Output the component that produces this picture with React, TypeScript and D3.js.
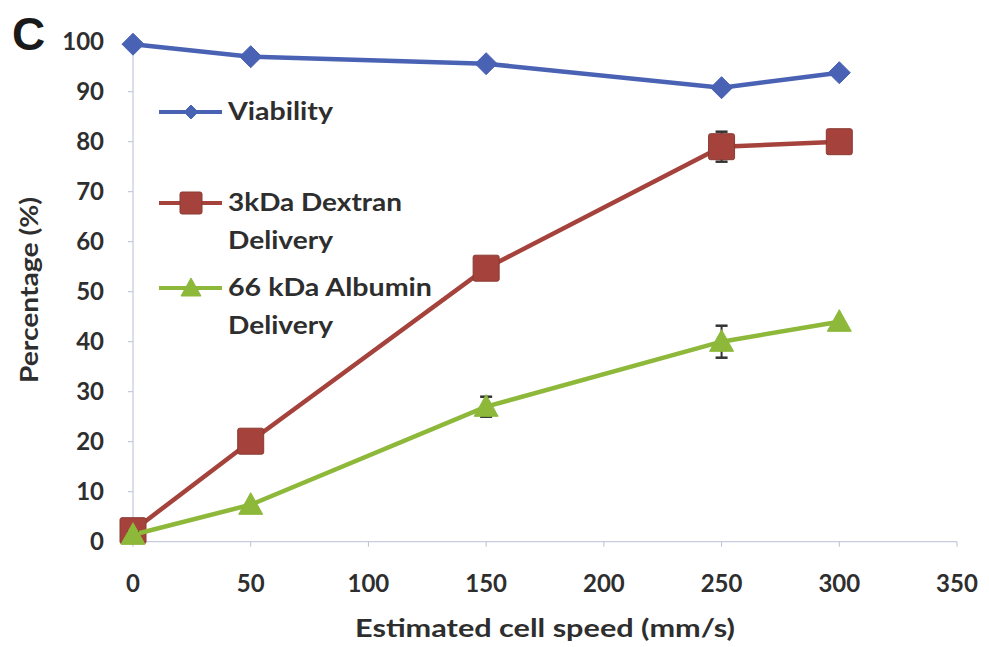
import React from "react";
import * as d3 from "d3";

const speeds = [0, 50, 150, 250, 300];
const viability = [99.5, 97, 95.6, 90.8, 93.8];
const viabilityErr = [0, 0, 0, 0, 0];
const dextran = [2.2, 20.1, 54.7, 79, 80];
const dextranErr = [2, 0, 1.5, 3, 0];
const albumin = [1.4, 7.4, 27, 40, 44];
const albuminErr = [0.5, 0, 2, 3.2, 0];
const xTicks = [0, 50, 100, 150, 200, 250, 300, 350];
const yTicks = [0, 10, 20, 30, 40, 50, 60, 70, 80, 90, 100];

const W = 989;
const H = 647;
const x = d3.scaleLinear().domain([0, 350]).range([133, 957]);
const y = d3.scaleLinear().domain([0, 100]).range([541.7, 41.7]);

const font = "Lato, 'Open Sans', sans-serif";
const textColor = "#2e2e2e";
const axisColor = "#b9bfd6";

const series = [
  { name: "Viability", values: viability, err: viabilityErr, color: "#4a62b4", marker: "diamond" },
  { name: "3kDa Dextran", values: dextran, err: dextranErr, color: "#a4423b", marker: "square" },
  { name: "66 kDa Albumin", values: albumin, err: albuminErr, color: "#8db83a", marker: "triangle" },
];

function Marker({ type, cx, cy, color, small }: { type: string; cx: number; cy: number; color: string; small?: boolean }) {
  if (type === "diamond") {
    const s = small ? 7 : 11;
    return <path d={`M${cx},${cy - s}L${cx + s},${cy}L${cx},${cy + s}L${cx - s},${cy}Z`} fill={color} stroke={color} strokeWidth={1} />;
  }
  if (type === "square") {
    const s = small ? 11 : 13;
    return <rect x={cx - s} y={cy - s} width={2 * s} height={2 * s} rx={2} fill={color} stroke="#8a3a33" strokeWidth={1} />;
  }
  const s = small ? 10 : 12;
  return <path d={`M${cx},${cy - s}L${cx + s},${cy + s * 0.8}L${cx - s},${cy + s * 0.8}Z`} fill={color} stroke={color} strokeWidth={1} />;
}

export default function App() {
  const line = d3
    .line<number>()
    .x((_, i) => x(speeds[i]))
    .y((d) => y(d));

  const legend = [
    { idx: 0, ly: 112, lines: ["Viability"], widths: [105] },
    { idx: 1, ly: 203, lines: ["3kDa Dextran", "Delivery"], widths: [174, 105] },
    { idx: 2, ly: 288, lines: ["66 kDa Albumin", "Delivery"], widths: [204, 105] },
  ];

  return (
    <svg width={W} height={H} style={{ display: "block", position: "absolute", left: 0, top: 0 }}>
      <rect width={W} height={H} fill="#ffffff" />
      <text x={12} y={50} fontFamily="Arial, 'Liberation Sans', sans-serif" fontWeight={900} fontSize={46} fill="#1a1a1a">C</text>

      {/* axes */}
      <line x1={x(0)} x2={x(0)} y1={y(100)} y2={y(0)} stroke={axisColor} strokeWidth={1} />
      <line x1={x(0)} x2={x(350)} y1={y(0)} y2={y(0)} stroke={axisColor} strokeWidth={1} />
      {yTicks.map((t) => (
        <g key={"y" + t}>
          <line x1={x(0) - 5} x2={x(0)} y1={y(t)} y2={y(t)} stroke={axisColor} />
          <text x={104} y={y(t)} dy="0.36em" textAnchor="end" fontFamily={font} fontWeight={700} fontSize={24} fill={textColor}>{t}</text>
        </g>
      ))}
      {xTicks.map((t) => (
        <g key={"x" + t}>
          <line x1={x(t)} x2={x(t)} y1={y(0)} y2={y(0) + 5} stroke={axisColor} />
          <text x={x(t)} y={583} dy="0.36em" textAnchor="middle" fontFamily={font} fontWeight={700} fontSize={24} fill={textColor}>{t}</text>
        </g>
      ))}
      <text x={545} y={637} textAnchor="middle" fontFamily={font} fontWeight={700} fontSize={24} textLength={380} lengthAdjust="spacingAndGlyphs" fill={textColor}>Estimated cell speed (mm/s)</text>
      <text transform={`translate(38,290) rotate(-90)`} textAnchor="middle" fontFamily={font} fontWeight={700} fontSize={24} textLength={186} lengthAdjust="spacingAndGlyphs" fill={textColor}>Percentage (%)</text>

      {/* series */}
      {series.map((s) => (
        <g key={s.name}>
          <path d={line(s.values) || ""} fill="none" stroke={s.color} strokeWidth={4.5} />
          {s.values.map((v, i) =>
            s.err[i] > 0 ? (
              <g key={"e" + i}>
                <line x1={x(speeds[i])} x2={x(speeds[i])} y1={y(v + s.err[i])} y2={y(v - s.err[i])} stroke="#333" strokeWidth={2} />
                <line x1={x(speeds[i]) - 6} x2={x(speeds[i]) + 6} y1={y(v + s.err[i])} y2={y(v + s.err[i])} stroke="#333" strokeWidth={2.5} />
                <line x1={x(speeds[i]) - 6} x2={x(speeds[i]) + 6} y1={y(v - s.err[i])} y2={y(v - s.err[i])} stroke="#333" strokeWidth={2.5} />
              </g>
            ) : null
          )}
          {s.values.map((v, i) => (
            <Marker key={"m" + i} type={s.marker} cx={x(speeds[i])} cy={y(v)} color={s.color} />
          ))}
        </g>
      ))}

      {/* legend */}
      {legend.map((l) => {
        const s = series[l.idx];
        return (
          <g key={"l" + l.idx}>
            <line x1={159} x2={222} y1={l.ly} y2={l.ly} stroke={s.color} strokeWidth={4} />
            <Marker type={s.marker} cx={191} cy={l.ly} color={s.color} small />
            {l.lines.map((t, k) => (
              <text key={k} x={228} y={l.ly + 8 + k * 38} fontFamily={font} fontWeight={700} fontSize={24} textLength={l.widths[k]} lengthAdjust="spacingAndGlyphs" fill={textColor}>{t}</text>
            ))}
          </g>
        );
      })}
    </svg>
  );
}
